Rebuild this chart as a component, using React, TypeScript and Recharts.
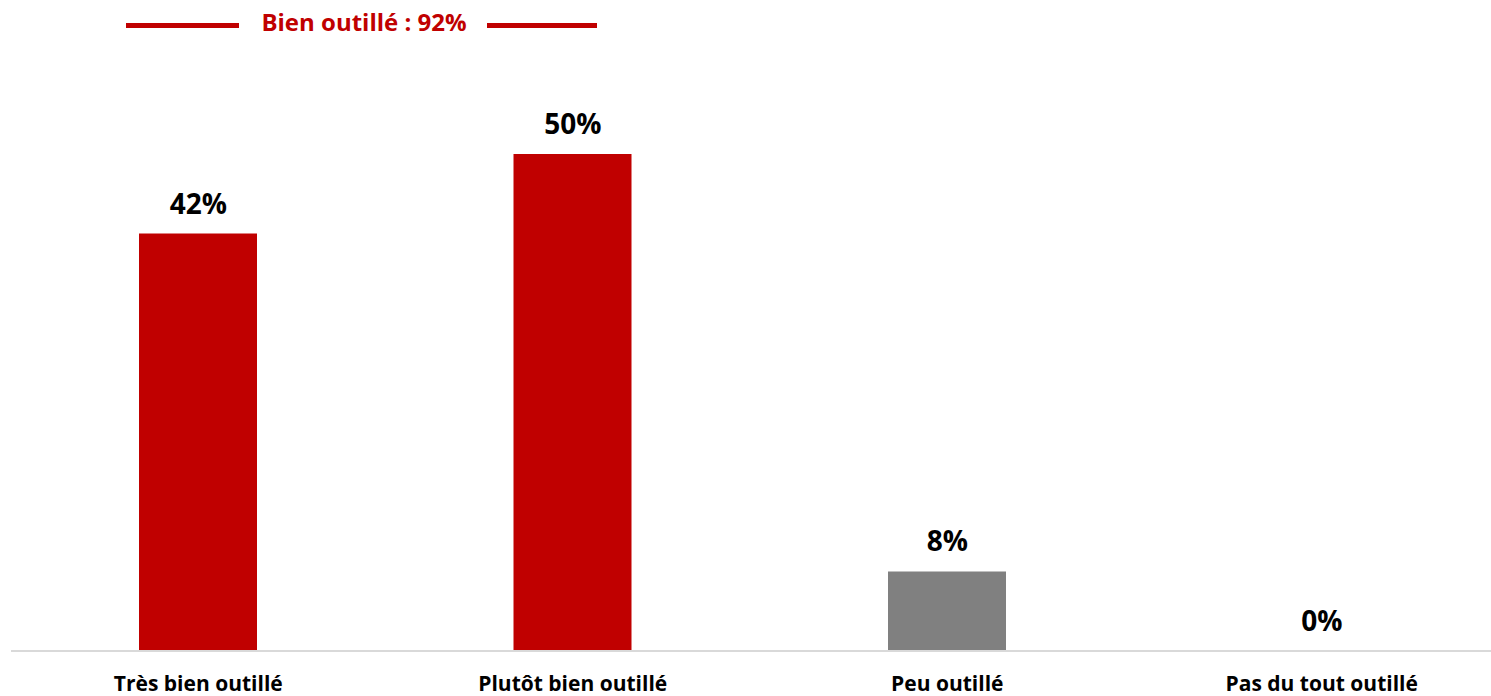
import { ComposedChart, Bar, Line, XAxis, YAxis, Cell, LabelList } from "recharts";

const categories = ["Très bien outillé", "Plutôt bien outillé", "Peu outillé", "Pas du tout outillé"];
const values = [42, 50, 8, 0];
const barColors = ["#c00000", "#c00000", "#808080", "#808080"];
const summaryLabel = "Bien outillé : 92%";

const RED = "#c00000";
const FONT = "'Open Sans', 'Noto Sans', sans-serif";

const data = categories.map((name, i) => ({ name, value: values[i] }));

function CategoryTick({ x, y, payload }: { x?: number; y?: number; payload?: { value: string } }) {
  return (
    <text x={x} y={(y ?? 0) + 32} textAnchor="middle" fill="#000" fontSize={21} fontWeight={700} fontFamily={FONT}>
      {payload?.value}
    </text>
  );
}

// label sits above the point (works for 0% too, unlike a zero-height bar)
function ValueLabel(props: any) {
  const { x, y, value } = props;
  return (
    <text x={x} y={y - 20} textAnchor="middle" fill="#000" fontSize={28} fontWeight={700} fontFamily={FONT}>
      {`${value}%`}
    </text>
  );
}

export default function App() {
  return (
    <div style={{ position: "absolute", left: 0, top: 0, width: 1491, height: 696, overflow: "hidden", background: "#fff", fontFamily: FONT }}>
      {/* summary header */}
      <div style={{ position: "absolute", left: 126, top: 23, width: 113, height: 5, background: RED }} />
      <div style={{ position: "absolute", left: 487, top: 23, width: 110, height: 5, background: RED }} />
      <div
        style={{
          position: "absolute",
          left: 244,
          width: 240,
          top: 5,
          textAlign: "center",
          color: RED,
          fontWeight: 700,
          fontSize: 24,
          lineHeight: "34px",
        }}
      >
        {summaryLabel}
      </div>

      <ComposedChart width={1509} height={696} data={data} margin={{ top: 154, right: 0, bottom: 0, left: 11 }}>
        <XAxis
          dataKey="name"
          height={45}
          axisLine={{ stroke: "#d9d9d9", strokeWidth: 2 }}
          tickLine={false}
          tick={<CategoryTick />}
          interval={0}
        />
        <YAxis hide domain={[0, 50]} />
        <Bar dataKey="value" barSize={118} isAnimationActive={false}>
          {data.map((d, i) => (
            <Cell key={d.name} fill={barColors[i]} />
          ))}
        </Bar>
        <Line dataKey="value" stroke="none" dot={false} activeDot={false} isAnimationActive={false}>
          <LabelList dataKey="value" content={<ValueLabel />} />
        </Line>
      </ComposedChart>
    </div>
  );
}
